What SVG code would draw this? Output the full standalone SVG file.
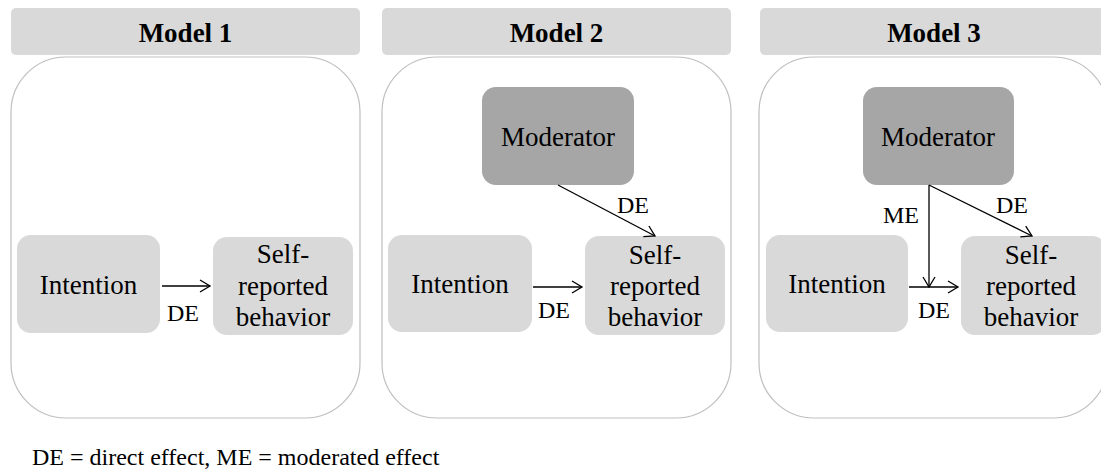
<svg xmlns="http://www.w3.org/2000/svg" width="1101" height="470" viewBox="0 0 1101 470" font-family="'Liberation Serif', 'Times New Roman', serif">
<style>
.hdr{fill:#d9d9d9}
.panel{fill:#fff;stroke:#bfbfbf;stroke-width:1.2}
.node{fill:#d9d9d9}
.mod{fill:#a6a6a6}
.ht{font-family:'Liberation Serif',serif;font-size:27px;font-weight:bold;text-anchor:middle;fill:#000}
.nt{font-family:'Liberation Serif',serif;font-size:27px;text-anchor:middle;fill:#000}
.lt{font-family:'Liberation Serif',serif;font-size:24px;fill:#000}
.edge{stroke:#000;stroke-width:1.3;fill:none;marker-end:url(#arr)}
</style>
<defs>
<marker id="arr" markerUnits="userSpaceOnUse" markerWidth="14" markerHeight="14" viewBox="0 0 14 14" refX="12" refY="7" orient="auto">
<path d="M2,1 L12,7 L2,13" fill="none" stroke="#000" stroke-width="1.3"/>
</marker>
</defs>
<rect width="1101" height="470" fill="#fff"/>
<g id="model1">
<rect class="hdr" x="11" y="8" width="349" height="47" rx="5"/>
<text class="ht" x="185.5" y="42">Model 1</text>
<rect class="panel" x="11" y="57" width="349" height="361" rx="55"/>
</g>
<g id="model2">
<rect class="hdr" x="382" y="8" width="349" height="47" rx="5"/>
<text class="ht" x="556.5" y="42">Model 2</text>
<rect class="panel" x="382" y="57" width="349" height="361" rx="55"/>
</g>
<g id="model3">
<rect class="hdr" x="760" y="8" width="349" height="47" rx="5"/>
<text class="ht" x="934" y="42">Model 3</text>
<rect class="panel" x="759" y="57" width="349" height="361" rx="55"/>
</g>
<g id="m1-intention">
<rect class="node" x="17" y="235" width="143" height="98" rx="14"/>
<text class="nt" x="88.5" y="294">Intention</text>
</g>
<g id="m1-behavior">
<rect class="node" x="213" y="237" width="140" height="98" rx="14"/>
<text class="nt" x="283" y="263">Self-</text>
<text class="nt" x="283" y="295">reported</text>
<text class="nt" x="283" y="326">behavior</text>
</g>
<g id="m2-moderator">
<rect class="mod" x="482" y="87" width="152" height="98" rx="14"/>
<text class="nt" x="558" y="146">Moderator</text>
</g>
<g id="m2-intention">
<rect class="node" x="388" y="235" width="144" height="97" rx="14"/>
<text class="nt" x="460" y="293">Intention</text>
</g>
<g id="m2-behavior">
<rect class="node" x="585" y="236" width="140" height="99" rx="14"/>
<text class="nt" x="655" y="264">Self-</text>
<text class="nt" x="655" y="295">reported</text>
<text class="nt" x="655" y="326">behavior</text>
</g>
<g id="m3-moderator">
<rect class="mod" x="863" y="87" width="151" height="98" rx="14"/>
<text class="nt" x="938" y="146">Moderator</text>
</g>
<g id="m3-intention">
<rect class="node" x="766" y="235" width="142" height="97" rx="14"/>
<text class="nt" x="837" y="293">Intention</text>
</g>
<g id="m3-behavior">
<rect class="node" x="961" y="236" width="145" height="99" rx="14"/>
<text class="nt" x="1031" y="264">Self-</text>
<text class="nt" x="1031" y="295">reported</text>
<text class="nt" x="1031" y="326">behavior</text>
</g>
<g id="connectors">
<line class="edge" x1="162" y1="286" x2="210" y2="286"/>
<line class="edge" x1="533" y1="287" x2="582" y2="287"/>
<line class="edge" x1="558" y1="185" x2="655" y2="236"/>
<line class="edge" x1="909" y1="287" x2="958" y2="287"/>
<line class="edge" x1="929" y1="185" x2="929" y2="287"/>
<line class="edge" x1="929" y1="185" x2="1032" y2="236"/>
</g>
<g id="labels">
<text class="lt" x="167" y="321">DE</text>
<text class="lt" x="538" y="318">DE</text>
<text class="lt" x="617" y="213">DE</text>
<text class="lt" x="883" y="223">ME</text>
<text class="lt" x="996" y="213">DE</text>
<text class="lt" x="918" y="318">DE</text>
</g>
<text id="footer" class="lt" x="32" y="465">DE = direct effect, ME = moderated effect</text>
</svg>
